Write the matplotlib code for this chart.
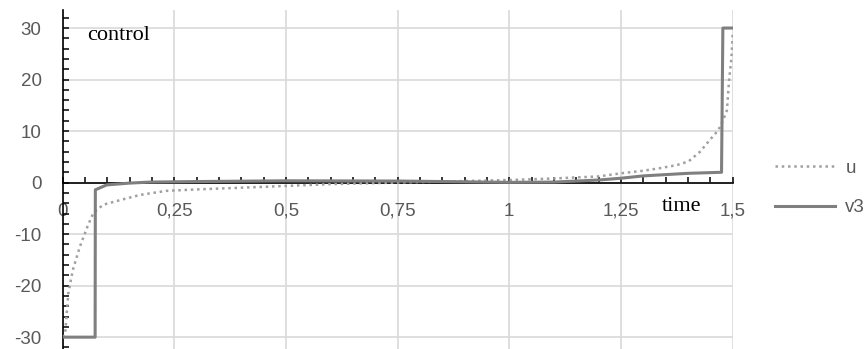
import matplotlib
matplotlib.use('Agg')
import matplotlib.pyplot as plt
from matplotlib.ticker import MultipleLocator, FixedLocator

# Data
t_u = [0.0, 0.006, 0.013, 0.023, 0.039, 0.056, 0.069, 0.091, 0.129, 0.173, 0.233,
       0.308, 0.457, 0.6, 0.75, 0.9, 1.0, 1.1, 1.2, 1.25, 1.3, 1.337, 1.375,
       1.401, 1.427, 1.449, 1.468, 1.478, 1.487, 1.492, 1.497, 1.5]
u = [-30.0, -29.2, -21.5, -17.0, -12.4, -8.5, -5.9, -4.3, -3.4, -2.4, -1.6,
     -1.3, -0.8, -0.3, 0.0, 0.3, 0.5, 0.8, 1.2, 1.8, 2.3, 2.8, 3.4,
     4.1, 6.0, 8.3, 10.2, 12.0, 14.0, 20.0, 24.0, 29.0]

t_v3 = [0.0, 0.073, 0.0735, 0.099, 0.15, 0.196, 0.3, 0.5, 0.755, 1.0, 1.1,
        1.2, 1.25, 1.3, 1.4, 1.475, 1.478, 1.5]
v3 = [-30.0, -30.0, -1.4, -0.45, -0.1, 0.1, 0.2, 0.35, 0.3, 0.05, 0.1,
      0.5, 0.85, 1.3, 1.8, 2.0, 30.0, 30.0]

x_ticks = [0, 0.25, 0.5, 0.75, 1.0, 1.25, 1.5]
x_labels = ['0', '0,25', '0,5', '0,75', '1', '1,25', '1,5']
y_ticks = [-30, -20, -10, 0, 10, 20, 30]
y_labels = ['-30', '-20', '-10', '0', '10', '20', '30']

fig = plt.figure(figsize=(8.67, 3.49), dpi=100)
ax = fig.add_axes([62.5 / 867, 0.0, (732.7 - 62.5) / 867, 339 / 349])

ax.plot(t_u, u, color='#a0a0a0', lw=1.8, linestyle=(0, (1, 1.5)),
        dash_capstyle='butt', label='u', zorder=3)
ax.plot(t_v3, v3, color='#7f7f7f', lw=2.2, label='v3', zorder=4)

ax.set_xlim(0, 1.5)
ax.set_ylim(-32.3, 33.5)

# Axis lines crossing at zero, like the spreadsheet chart
ax.spines['top'].set_visible(False)
ax.spines['right'].set_visible(False)
ax.spines['bottom'].set_position(('data', 0))
ax.spines['bottom'].set_color('black')
ax.spines['left'].set_color('black')
ax.spines['bottom'].set_linewidth(1.2)
ax.spines['left'].set_linewidth(1.2)

ax.xaxis.set_major_locator(FixedLocator(x_ticks))
ax.set_xticklabels(x_labels)
ax.yaxis.set_major_locator(FixedLocator(y_ticks))
ax.set_yticklabels(y_labels)
ax.xaxis.set_minor_locator(MultipleLocator(0.05))
ax.yaxis.set_minor_locator(MultipleLocator(2))

ax.tick_params(axis='both', which='both', direction='in', length=4, width=1.1,
               color='black')
ax.tick_params(axis='x', which='major', pad=14.5, labelsize=13.5, labelcolor='#595959')
ax.tick_params(axis='y', which='major', pad=15, labelsize=13.5, labelcolor='#595959')
for lab in ax.get_xticklabels() + ax.get_yticklabels():
    lab.set_fontfamily('Liberation Sans')

ax.grid(True, which='major', color='#d9d9d9', lw=1.2, zorder=0)
ax.set_axisbelow(True)

ax.text(87 / 867, 1 - 35 / 349, 'control', transform=fig.transFigure,
        fontfamily='Liberation Serif', fontsize=16, color='black',
        va='center', ha='left')
ax.text(681.7 / 867, 1 - 206 / 349, 'time', transform=fig.transFigure,
        fontfamily='Liberation Serif', fontsize=16, color='black',
        va='center', ha='center')

leg = fig.legend(loc='center left', bbox_to_anchor=(775 / 867, 1 - 187.8 / 349),
                 frameon=False, borderpad=0, borderaxespad=0, handlelength=3.2,
                 handletextpad=0.55, labelspacing=1.2,
                 prop={'family': 'Liberation Sans', 'size': 13.5})
for txt in leg.get_texts():
    txt.set_color('#595959')

fig.savefig('out.png', dpi=100)
